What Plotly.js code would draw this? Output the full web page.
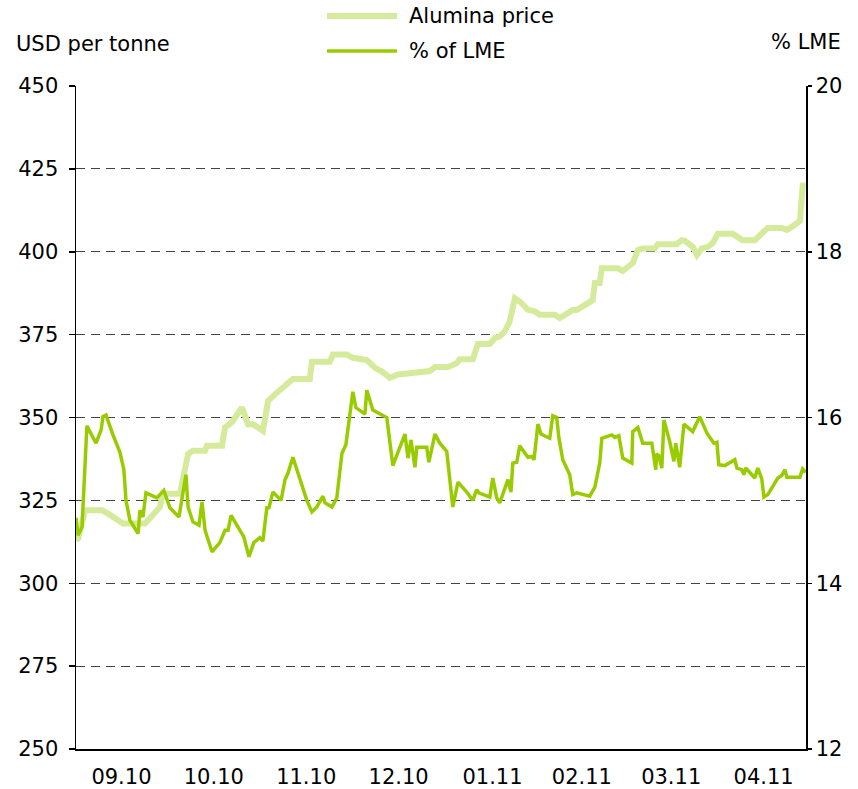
<!DOCTYPE html>
<html>
<head>
<meta charset="utf-8">
<script src="https://cdn.plot.ly/plotly-3.0.1.min.js"></script>
<style>html,body{margin:0;padding:0;background:#fff;}#chart{width:858px;height:789px;}</style>
</head>
<body>
<div id="chart"></div>
<script>
// x values: days since 1 Sep 2010
var monthLabels = ['09.10','10.10','11.10','12.10','01.11','02.11','03.11','04.11'];
var monthMidDays = [15, 45.5, 76, 106.5, 137.5, 167, 196.5, 227];

var aluminaDay = [0,0.7,3.0,8.6,10.6,15.5,22.8,27.7,28.7,34.3,37.0,38.6,42.6,43.2,48.2,49.2,51.5,54.8,56.8,58.4,61.7,63.4,66.3,69.6,71.6,77.2,77.9,83.8,84.8,89.4,91.4,96.0,98.7,101.3,103.6,106.3,110.2,112.5,116.8,118.5,122.8,125.7,126.7,131.0,132.7,136.6,138.3,139.9,141.6,143.2,144.9,146.5,149.2,151.5,153.1,158.1,159.7,164.0,165.3,170.6,171.3,172.9,173.6,178.9,180.5,183.8,185.5,187.1,191.1,192.1,198.3,200.0,201.0,203.6,205.0,206.6,208.6,210.2,211.9,216.8,218.5,220.1,224.1,225.7,228.4,233.0,234.7,236.3,239.0,239.9,240.9];
var aluminaPrice = [313,313.5,322,322,321,318,318,323,327,327,339,340,340,341.5,341.5,347,348.6,353,348,348,346,355,357.5,359.8,361.6,361.6,366.8,366.8,369,369,368,367.3,365,363.7,362,363,363.4,363.4,364,365.2,365.2,366.4,367.6,367.6,372.2,372.2,374,374.5,376,379,386,385,382.5,382,381,381,380,382.4,382.4,385.4,390.6,390.6,395,395,394.2,396.6,400.5,401,401,402.3,402.3,403.5,403.3,401.5,399,401,401.5,402.6,405.4,405.4,404.2,403.5,403.5,405,407.2,407.2,406.6,407.5,409.3,420,420];

var lmeDay = [0,0.7,2.0,3.6,6.6,8.3,8.9,9.9,12.2,14.5,15.8,16.5,17.8,20.5,21.1,22.1,23.1,26.7,27.7,29.0,31.0,34.0,36.3,37.0,38.6,40.6,41.6,42.6,44.9,47.5,49.2,50.2,51.2,54.8,55.4,57.1,58.7,60.7,61.7,63.0,63.7,65.0,67.7,69.0,70.0,71.6,73.9,76.2,77.9,79.5,81.5,82.2,84.5,86.1,87.8,89.1,91.4,92.4,95.4,96.0,98.0,102.6,104.6,108.6,109.6,110.6,111.9,112.5,115.8,116.5,118.5,120.1,122.4,124.4,126.1,129.0,131.0,132.3,133.0,136.6,137.6,138.9,139.9,142.6,143.6,144.2,145.5,146.5,149.2,150.5,151.2,152.5,153.5,156.4,157.4,158.7,159.4,160.7,163.0,164.0,165.3,169.6,171.3,172.9,173.6,176.9,177.9,179.2,180.5,183.5,183.8,185.5,187.1,190.1,191.4,191.7,192.4,193.4,194.1,196.0,197.4,198.0,199.3,200.7,203.6,205.9,208.3,210.6,211.6,212.2,214.2,217.5,218.2,219.8,220.5,221.1,224.1,225.1,226.4,227.1,228.4,231.7,233.0,234.0,234.7,239.0,239.9,240.9];
var lmePct = [14.79,14.58,14.68,15.9,15.69,15.85,16.01,16.03,15.79,15.58,15.37,15.0,14.76,14.6,14.88,14.8,15.09,15.03,15.07,15.12,14.91,14.8,15.31,14.92,14.74,14.7,14.98,14.64,14.38,14.49,14.64,14.64,14.82,14.58,14.56,14.32,14.49,14.55,14.51,14.91,14.91,15.1,15.0,15.25,15.33,15.52,15.25,15.0,14.86,14.92,15.05,14.97,14.92,15.03,15.57,15.67,16.31,16.12,16.04,16.33,16.09,16.0,15.42,15.8,15.51,15.73,15.4,15.64,15.64,15.46,15.8,15.69,15.59,14.92,15.22,15.1,15.0,15.13,15.09,15.04,15.27,15.03,14.97,15.25,15.1,15.45,15.46,15.66,15.52,15.53,15.49,15.92,15.8,15.75,16.02,16.0,15.76,15.49,15.31,15.07,15.09,15.05,15.16,15.45,15.75,15.79,15.76,15.78,15.51,15.45,15.83,15.88,15.69,15.69,15.37,15.56,15.54,15.39,15.97,15.71,15.47,15.69,15.4,15.92,15.83,16.01,15.81,15.69,15.7,15.43,15.42,15.49,15.39,15.37,15.31,15.39,15.27,15.39,15.26,15.04,15.07,15.27,15.3,15.37,15.28,15.28,15.38,15.34];

var leftTicks = [250,275,300,325,350,375,400,425,450];
var rightTicks = [12,14,16,18,20];

var colAlumina = '#d5eb9b';
var colLme = '#99cc00';
var fontFam = 'DejaVu Sans, Verdana, sans-serif';
var fs = 21;

var traces = [
  {x: aluminaDay, y: aluminaPrice, type: 'scatter', mode: 'lines', name: 'Alumina price',
   line: {color: colAlumina, width: 6}, xaxis: 'x', yaxis: 'y', showlegend: false},
  {x: lmeDay, y: lmePct, type: 'scatter', mode: 'lines', name: '% of LME',
   line: {color: colLme, width: 3.5}, xaxis: 'x', yaxis: 'y2', showlegend: false}
];

var layout = {
  width: 858, height: 789,
  margin: {l: 76, r: 52, t: 86, b: 40},
  paper_bgcolor: '#fff', plot_bgcolor: '#fff',
  font: {family: fontFam, size: fs, color: '#000'},
  showlegend: false,
  xaxis: {
    range: [0, 241], tickmode: 'array', tickvals: monthMidDays, ticktext: monthLabels,
    showgrid: false, zeroline: false, showline: true, linecolor: '#000', linewidth: 1.5,
    ticks: '', ticklabelstandoff: 8, tickfont: {family: fontFam, size: fs}
  },
  yaxis: {
    range: [250, 450], tickmode: 'array', tickvals: leftTicks,
    showgrid: true, gridcolor: '#444', griddash: '9px,6px', gridwidth: 1,
    zeroline: false, showline: true, linecolor: '#000', linewidth: 1.5,
    ticks: 'outside', ticklen: 6, tickwidth: 1.5, tickcolor: '#000',
    ticklabelstandoff: 6, tickfont: {family: fontFam, size: fs}
  },
  yaxis3: {
    range: [250, 450], overlaying: 'y', side: 'left', anchor: 'x', tickmode: 'array', tickvals: leftTicks,
    showgrid: false, zeroline: false, showline: false, showticklabels: false,
    ticks: 'inside', ticklen: 6, tickwidth: 1.5, tickcolor: '#000'
  },
  yaxis2: {
    range: [12, 20], overlaying: 'y', side: 'right', anchor: 'x', tickmode: 'array', tickvals: rightTicks,
    showgrid: false, zeroline: false, showline: true, linecolor: '#000', linewidth: 1.5,
    ticks: 'outside', ticklen: 4, tickwidth: 1.5, tickcolor: '#000',
    ticklabelstandoff: 0, tickfont: {family: fontFam, size: fs}
  },
  yaxis4: {
    range: [12, 20], overlaying: 'y', side: 'right', anchor: 'x', tickmode: 'array', tickvals: rightTicks,
    showgrid: false, zeroline: false, showline: false, showticklabels: false,
    ticks: 'inside', ticklen: 4, tickwidth: 1.5, tickcolor: '#000'
  },
  shapes: [
    {type: 'line', xref: 'paper', yref: 'paper', x0: 0.3438, x1: 0.4397, y0: 1.1056, y1: 1.1056,
     line: {color: colAlumina, width: 6}},
    {type: 'line', xref: 'paper', yref: 'paper', x0: 0.3438, x1: 0.4397, y0: 1.0528, y1: 1.0528,
     line: {color: colLme, width: 3.5}}
  ],
  annotations: [
    {text: 'Alumina price', xref: 'paper', yref: 'paper', x: 0.4534, y: 1.1056, xanchor: 'left', yanchor: 'middle',
     showarrow: false, font: {family: fontFam, size: fs}},
    {text: '% of LME', xref: 'paper', yref: 'paper', x: 0.4534, y: 1.0528, xanchor: 'left', yanchor: 'middle',
     showarrow: false, font: {family: fontFam, size: fs}},
    {text: 'USD per tonne', xref: 'paper', yref: 'paper', x: -0.085, y: 1.063, xanchor: 'left', yanchor: 'middle',
     showarrow: false, font: {family: fontFam, size: fs}},
    {text: '% LME', xref: 'paper', yref: 'paper', x: 1.051, y: 1.066, xanchor: 'right', yanchor: 'middle',
     showarrow: false, font: {family: fontFam, size: fs}}
  ]
};

Plotly.newPlot('chart', traces, layout, {displayModeBar: false, staticPlot: true});
</script>
</body>
</html>
